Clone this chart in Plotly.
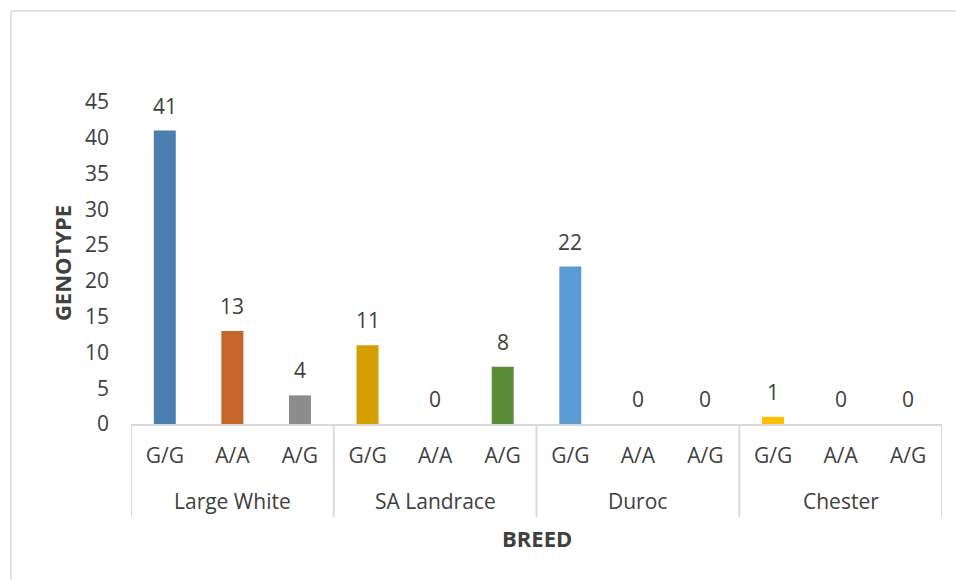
import plotly.graph_objects as go

# Genotype counts per breed
breeds = ["Large White", "SA Landrace", "Duroc", "Chester"]
genotypes = ["G/G", "A/A", "A/G"]
counts = [41, 13, 4, 11, 0, 8, 22, 0, 0, 1, 0, 0]
bar_colors = ["#4a7eb0", "#c5652a", "#8c8c8c",
              "#d59f00", "#bfbfbf", "#5a8b36",
              "#5b9bd5", "#5b9bd5", "#5b9bd5",
              "#ffc000", "#ffc000", "#ffc000"]
y_ticks = [0, 5, 10, 15, 20, 25, 30, 35, 40, 45]

keys = [f"{b} {g}" for b in breeds for g in genotypes]
tick_text = [g for b in breeds for g in genotypes]

FONT = "Open Sans"
TXT = "#404040"
LINE = "#d9d9d9"
FS = 21
TITLE_FS = 22

fig = go.Figure(go.Bar(
    x=keys, y=counts, marker=dict(color=bar_colors, line=dict(width=0)),
    hoverinfo="x+y",
))

# data labels above each bar
annotations = [
    dict(x=k, y=v, xref="x", yref="y", text=str(v), showarrow=False,
         yanchor="middle", yshift=25, font=dict(family=FONT, size=FS, color=TXT))
    for k, v in zip(keys, counts)
]

# breed group labels under the genotype labels
n = len(genotypes)
for i, b in enumerate(breeds):
    annotations.append(dict(
        x=keys[i * n + 1], y=-0.239, xref="x", yref="paper", text=b,
        showarrow=False, yanchor="middle",
        font=dict(family=FONT, size=FS, color=TXT)))

# axis titles
annotations.append(dict(x=0.5, y=-0.354, xref="paper", yref="paper",
                        text="<b>BREED</b>", showarrow=False, yanchor="middle",
                        font=dict(family=FONT, size=TITLE_FS, color=TXT)))
annotations.append(dict(x=-0.085, y=0.5, xref="paper", yref="paper",
                        text="<b>GENOTYPE</b>", showarrow=False, textangle=-90,
                        xanchor="center", yanchor="middle",
                        font=dict(family=FONT, size=TITLE_FS, color=TXT)))

shapes = [
    # outer chart frame
    dict(type="rect", xref="paper", yref="paper", x0=-0.148, x1=1.3,
         y0=-1.0, y1=1.2826, line=dict(color=LINE, width=1.5), layer="below"),
]
# group dividers
for j in range(len(breeds) + 1):
    shapes.append(dict(type="line", xref="x", yref="paper",
                       x0=j * n - 0.5, x1=j * n - 0.5, y0=0, y1=-0.289,
                       line=dict(color=LINE, width=2)))

fig.update_layout(
    width=956, height=580,
    margin=dict(l=131, r=14, t=102, b=156),
    paper_bgcolor="white", plot_bgcolor="white",
    showlegend=False, bargap=0.675,
    font=dict(family=FONT, size=FS, color=TXT),
    annotations=annotations, shapes=shapes,
    xaxis=dict(type="category", tickmode="array", tickvals=keys, ticktext=tick_text,
               showline=True, linecolor=LINE, linewidth=2, showgrid=False,
               ticks="", ticklabelstandoff=12, zeroline=False,
               tickfont=dict(family=FONT, size=FS, color=TXT),
               range=[-0.5, len(keys) - 0.5]),
    yaxis=dict(range=[0, 45], tickmode="array", tickvals=y_ticks,
               showgrid=False, zeroline=False, showline=False, ticks="",
               ticklabelstandoff=21,
               tickfont=dict(family=FONT, size=FS, color=TXT)),
)

fig.write_html("out.html")
